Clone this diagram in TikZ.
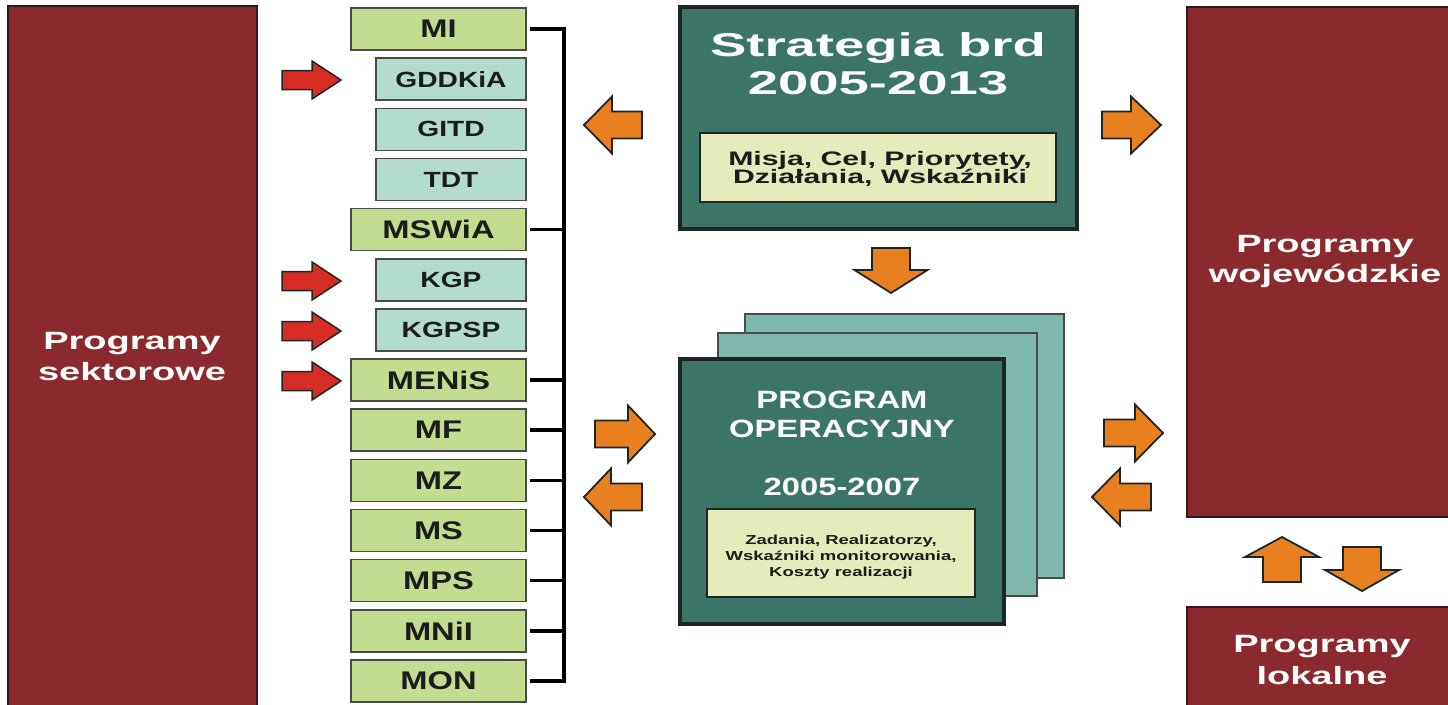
\documentclass[tikz,border=0pt]{standalone}
\usepackage{fontspec}
\setmainfont{Liberation Sans}
\usepackage{graphicx}
\definecolor{darkred}{HTML}{8B2A2E}
\definecolor{bardark}{HTML}{2E1A1A}
\definecolor{lgreen}{HTML}{C2DC90}
\definecolor{lteal}{HTML}{B3DBCE}
\definecolor{dteal}{HTML}{3B7567}
\definecolor{mteal}{HTML}{7FB9AE}
\definecolor{cream}{HTML}{E3ECBA}
\definecolor{orng}{HTML}{E8801F}
\definecolor{redarr}{HTML}{D62C24}
\definecolor{boxline}{HTML}{4A4A4A}
\definecolor{darkline}{HTML}{1E2624}
\definecolor{txtdark}{HTML}{1C1C1C}
\newcommand\hs[2]{\scalebox{#1}[1]{#2}}
\newcommand\fs[2]{\fontsize{#1}{#2}\selectfont}
\newcommand\gl[1]{\hs{1.28}{#1}}
% horizontal arrow: start x, head base x, tip x, centre y, shaft half, head half
\newcommand\harrow[7]{\draw[#1] (#2,{#5-#6}) -- (#3,{#5-#6}) -- (#3,{#5-#7}) -- (#4,#5) -- (#3,{#5+#7}) -- (#3,{#5+#6}) -- (#2,{#5+#6}) -- cycle;}
% vertical arrow: centre x, start y, head base y, tip y, shaft half, head half
\newcommand\varrow[7]{\draw[#1] ({#2-#6},#3) -- ({#2-#6},#4) -- ({#2-#7},#4) -- (#2,#5) -- ({#2+#7},#4) -- ({#2+#6},#4) -- ({#2+#6},#3) -- cycle;}
\begin{document}
\begin{tikzpicture}[x=1pt,y=-1pt,
  box/.style={anchor=north west, inner sep=0pt, outer sep=0pt},
  redbar/.style={box, draw=bardark, line width=1.3pt, fill=darkred},
  gbox/.style={box, draw=boxline, line width=1.6pt, fill=lgreen, minimum width=175pt, minimum height=42pt, text=txtdark, font=\fs{25.5}{28}\bfseries},
  tbox/.style={gbox, fill=lteal, minimum width=150pt, font=\fs{22}{25}\bfseries},
  bartxt/.style={anchor=base, inner sep=0pt, text=white, font=\fs{25}{30}\bfseries},
  titletxt/.style={anchor=base, inner sep=0pt, text=white, font=\fs{33}{38}\bfseries},
  progtxt/.style={anchor=base, inner sep=0pt, text=white, font=\fs{25}{29}\bfseries},
  midtxt/.style={anchor=base, inner sep=0pt, text=txtdark, font=\fs{19.5}{22}\bfseries},
  smalltxt/.style={anchor=base, inner sep=0pt, text=txtdark, font=\fs{13}{16}\bfseries},
  bigbox/.style={box, draw=darkline, line width=4pt, fill=dteal},
  innerbox/.style={box, draw=darkline, line width=2pt, fill=cream},
  sheet/.style={box, draw=boxline, line width=1.5pt, fill=mteal},
  bus/.style={line width=3.5pt, black, line join=miter},
  oarr/.style={fill=orng, draw=darkline, line width=1.8pt, line join=miter},
  rarr/.style={fill=redarr, draw=darkline, line width=1.5pt, line join=miter}]
\useasboundingbox (0,0) rectangle (1448,704);
\clip (0,0) rectangle (1448,704);
\fill[white] (0,0) rectangle (1448,704);

% left bar
\node[redbar, minimum width=249pt, minimum height=712pt] (sek) at (8,6) {};
\node[bartxt] (s1) at (132,349) {\hs{1.52}{Programy}};
\node[bartxt] (s2) at (132,380) {\hs{1.52}{sektorowe}};

% right bars
\node[redbar, minimum width=280pt, minimum height=510pt] (woj) at (1187,7) {};
\node[bartxt] (w1) at (1325,252) {\hs{1.52}{Programy}};
\node[bartxt] (w2) at (1325,282) {\hs{1.52}{wojewódzkie}};
\node[redbar, minimum width=280pt, minimum height=110pt] (lok) at (1187,607) {};
\node[bartxt] (l1) at (1322,652) {\hs{1.52}{Programy}};
\node[bartxt] (l2) at (1322,684) {\hs{1.52}{lokalne}};

% list of institutions
\node[gbox] (mi)     at (351,8)      {\gl{MI}};
\node[tbox] (gddkia) at (376,58.15)  {\gl{GDDKiA}};
\node[tbox] (gitd)   at (376,108.3)  {\gl{GITD}};
\node[tbox] (tdt)    at (376,158.45) {\gl{TDT}};
\node[gbox] (mswia)  at (351,208.6)  {\gl{MSWiA}};
\node[tbox] (kgp)    at (376,258.75) {\gl{KGP}};
\node[tbox] (kgpsp)  at (376,308.9)  {\gl{KGPSP}};
\node[gbox] (menis)  at (351,359.05) {\gl{MENiS}};
\node[gbox] (mf)     at (351,409.2)  {\gl{MF}};
\node[gbox] (mz)     at (351,459.35) {\gl{MZ}};
\node[gbox] (ms)     at (351,509.5)  {\gl{MS}};
\node[gbox] (mps)    at (351,559.65) {\gl{MPS}};
\node[gbox] (mnii)   at (351,609.8)  {\gl{MNiI}};
\node[gbox] (mon)    at (351,659.95) {\gl{MON}};

% bus
\coordinate (bus) at (564,29);
\draw[bus, shorten <=4pt, shorten >=4pt] (mi.east) -- (mi.east -| bus) -- (mon.east -| bus) -- (mon.east);
\foreach \n in {mswia,menis,mf,mz,ms,mps,mnii}
  \draw[bus, shorten <=4pt] (\n.east) -- (\n.east -| bus);

% red arrows
\harrow{rarr}{282}{312}{341}{80}{9.5}{19}
\harrow{rarr}{282}{312}{341}{281}{9.5}{19}
\harrow{rarr}{282}{312}{341}{331}{9.5}{19}
\harrow{rarr}{282}{312}{341}{381}{9.5}{19}

% strategia
\node[bigbox, minimum width=397pt, minimum height=222pt] (strat) at (680,7) {};
\node[titletxt] (st1) at (878,56) {\hs{1.65}{Strategia brd}};
\node[titletxt] (st2) at (878,94) {\hs{1.65}{2005-2013}};
\node[innerbox, minimum width=356pt, minimum height=69pt] (misja) at (700,133) {};
\node[midtxt] (mt1) at (880,165) {\hs{1.55}{Misja, Cel, Priorytety,}};
\node[midtxt] (mt2) at (880,183) {\hs{1.55}{Działania, Wskaźniki}};

% program operacyjny
\node[sheet, minimum width=319pt, minimum height=264pt] (sheetb) at (745,314) {};
\node[sheet, minimum width=319pt, minimum height=263pt] (sheeta) at (718,333) {};
\node[bigbox, minimum width=324pt, minimum height=265pt] (prog) at (680,359) {};
\node[progtxt] (p1) at (842,408) {\hs{1.31}{PROGRAM}};
\node[progtxt] (p2) at (842,437) {\hs{1.31}{OPERACYJNY}};
\node[progtxt] (p3) at (842,495) {\hs{1.31}{2005-2007}};
\node[innerbox, minimum width=268pt, minimum height=88pt] (zad) at (707,509) {};
\node[smalltxt] (z1) at (841,544) {\hs{1.42}{Zadania, Realizatorzy,}};
\node[smalltxt] (z2) at (841,560) {\hs{1.42}{Wskaźniki monitorowania,}};
\node[smalltxt] (z3) at (841,576) {\hs{1.42}{Koszty realizacji}};

% orange arrows
\harrow{oarr}{642}{612}{584}{125}{13.5}{28.5}
\harrow{oarr}{1102}{1131}{1161}{125}{13.5}{28.5}
\varrow{oarr}{891}{248}{270}{293}{19}{36.5}
\harrow{oarr}{595}{628}{655}{434}{13.5}{28.5}
\harrow{oarr}{642}{611}{584}{497}{13.5}{28.5}
\harrow{oarr}{1104}{1135}{1163}{433}{13.5}{28.5}
\harrow{oarr}{1151}{1120}{1092}{497}{13.5}{28.5}
\varrow{oarr}{1282}{582}{557}{537}{19}{37}
\varrow{oarr}{1362}{547}{570}{591}{19}{37}
\end{tikzpicture}
\end{document}
